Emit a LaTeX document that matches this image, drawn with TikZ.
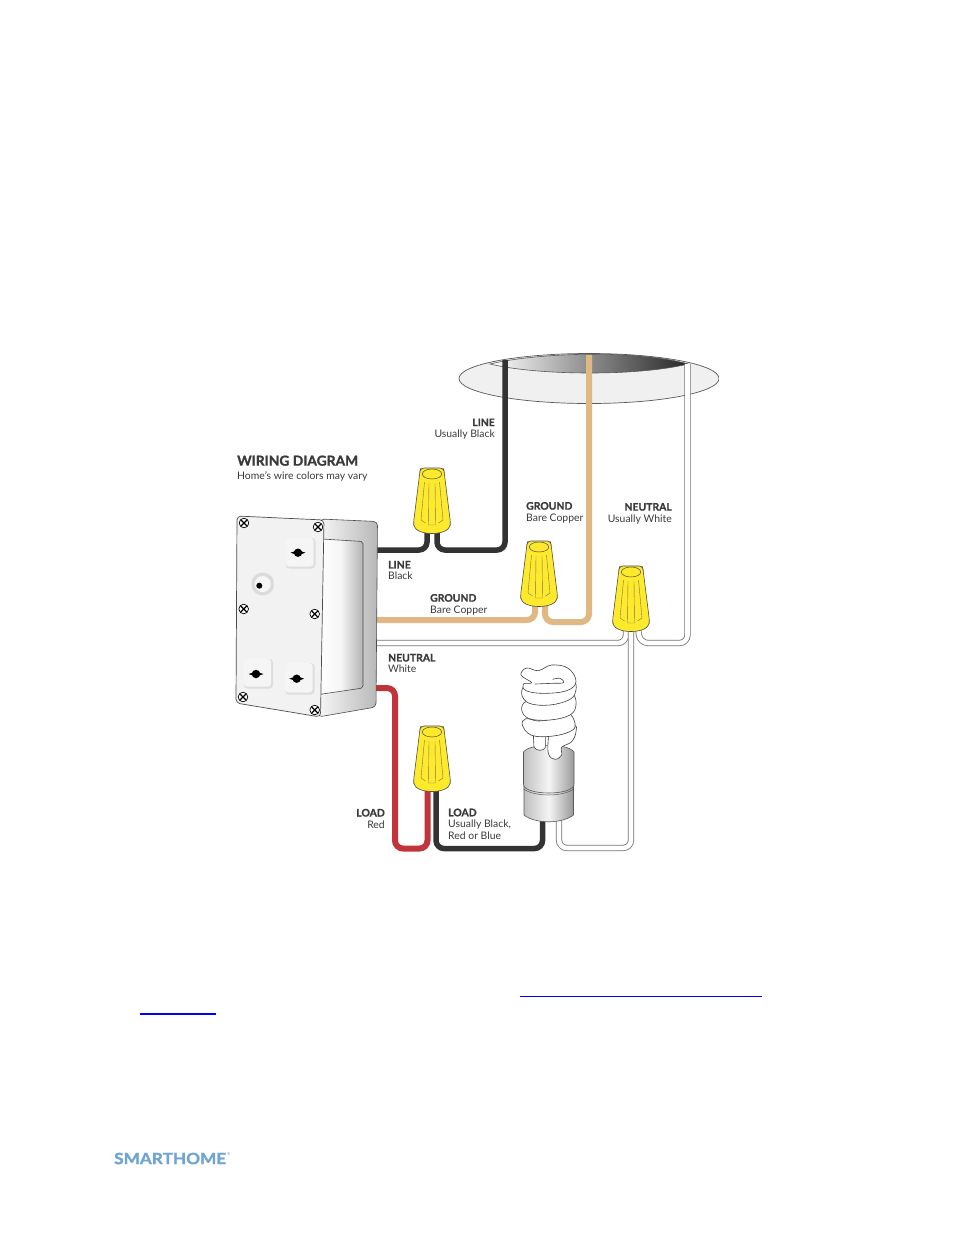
\documentclass[tikz,border=0pt]{standalone}
\usepackage{fontspec}
\setmainfont[BoldFeatures={FakeBold=1.2}]{Lato}
\usetikzlibrary{positioning}
\definecolor{wireblack}{HTML}{333333}
\definecolor{wiretan}{HTML}{E0B883}
\definecolor{wirered}{HTML}{C1343B}
\definecolor{nutyellow}{HTML}{FFE92B}
\definecolor{labelgray}{HTML}{3A3A3A}
\definecolor{logoblue}{HTML}{6FA5D3}
\tikzset{
  blackwire/.style={draw=wireblack, line width=5.5pt, rounded corners=8pt},
  tanwire/.style={draw=wiretan, line width=6pt, rounded corners=8pt},
  redwire/.style={draw=wirered, line width=6pt, rounded corners=8pt},
  whitewire/.style={draw=black!55, line width=0.8pt, double=white, double distance=4.6pt, rounded corners=8pt},
  wirelabel/.style={font=\fontsize{10.4}{11.5}\selectfont, text=labelgray, inner sep=0pt},
  keybox/.style={fill=black!13, rounded corners=3.5pt},
  keytop/.style={fill=black!4, rounded corners=3pt},
  nutrib/.style={black!55, line width=0.4pt},
  wirenut/.pic={
    \draw[black!70, line width=0.6pt, fill=nutyellow, rounded corners=3pt]
      (-12,-3) -- (-11,-6) -- (11,-6) -- (12,-3) -- (18.5,49) -- (18,53)
      .. controls (10,61) and (-10,61) .. (-18,53) -- (-18.5,49) -- cycle;
    \draw[black!70, line width=0.5pt] (0,0) ellipse (9.7 and 5);
    \draw[nutrib] (-7.5,8) -- (-11,46) -- (-6.5,49);
    \draw[nutrib] (7.5,8) -- (11,46) -- (6.5,49);
    \draw[nutrib] (-3,9) -- (-3.5,51) -- (3.5,51) -- (3,9);
  },
  boxscrew/.pic={
    \draw[black, line width=0.7pt, fill=white] (0,0) circle (4.8);
    \draw[black, line width=1.3pt] (-3,-3) -- (3,3) (-3,3) -- (3,-3);
  },
  keyhole/.pic={
    \fill[black] (0,0) circle (4.2);
    \fill[black] (-7.5,0) -- (0,-2.5) -- (7.5,0) -- (0,2.5) -- cycle;
  },
}
\begin{document}
\begin{tikzpicture}[x=1pt, y=-1pt]
\useasboundingbox[fill=white] (0,0) rectangle (954,1235);

% ceiling opening
\draw[black!65, line width=0.7pt, fill=black!6] (589,378.5) ellipse (130 and 25);
\shade[left color=white, right color=black!85, middle color=black!45, draw=black!65, line width=0.6pt]
  (490,364) .. controls (540,352) and (640,350) .. (688,364)
  .. controls (640,376) and (540,376) .. cycle;
\fill[white] (718.5,340) rectangle (730,410);

% named wire ends
\coordinate (nutline) at (432,474);
\coordinate (nutground) at (539,547);
\coordinate (nutneutral) at (631,572);
\coordinate (nutload) at (432,732);
\coordinate (boxline) at (376,550);
\coordinate (boxground) at (376,620);
\coordinate (boxneutral) at (376,643);
\coordinate (boxload) at (376,688);
\coordinate (ceilline) at (505,360);
\coordinate (ceilground) at (589,355);
\coordinate (ceilneutral) at (687.5,364);
\coordinate (bulbhot) at (542.5,818);
\coordinate (bulbneutral) at (559,818);

% wires
\draw[blackwire] (boxline) -- (427,550) -- (427,528);
\draw[blackwire] (437,528) -- (437,550) -- (505,550) -- (ceilline);
\draw[tanwire] (boxground) -- (535,620) -- (535,602);
\draw[tanwire] (545,602) -- (545,622) -- (589,622) -- (ceilground);
\draw[whitewire] (boxneutral) -- (626,643) -- (626,628);
\draw[whitewire] (638,628) -- (640,643) -- (687.5,643) -- (ceilneutral);
\draw[whitewire] (631,625) -- (631,848) -- (559,848) -- (bulbneutral);
\draw[redwire] (boxload) -- (395,688) -- (395,848.5) -- (427.5,848.5) -- (427.5,788);
\draw[blackwire] (436,788) -- (436,848.5) -- (542.5,848.5) -- (bulbhot);

% switch body
\shade[left color=black!3, right color=black!28, draw=black!70, line width=0.6pt, rounded corners=4pt]
  (320,519) -- (377.5,521.5) -- (376,707) -- (318,717) -- cycle;
\shade[left color=white, right color=black!30, middle color=black!4, draw=black!70, line width=0.6pt, rounded corners=2pt]
  (322,539) -- (363,541.5) -- (363,688) -- (319,694.5) -- cycle;
\draw[black!70, line width=0.7pt, fill=black!5, rounded corners=4pt]
  (237,516) -- (324,520) -- (320.5,717) -- (236,703) -- cycle;
\fill[keybox] (286,538) rectangle (315.5,568.5);
\fill[keybox] (244,659) rectangle (273,688.5);
\fill[keybox] (285,663) rectangle (314.5,694.5);
\fill[keytop] (286,538) rectangle (313.5,566.5);
\fill[keytop] (244,659) rectangle (271,686.5);
\fill[keytop] (285,663) rectangle (312.5,692.5);
\path (298,552.7) pic {keyhole};
\path (256,674) pic {keyhole};
\path (296.7,678.7) pic {keyhole};
\fill[black!14] (262.7,584) circle (11.5);
\fill[black!3] (262.7,584) circle (8);
\fill[black] (259.3,585.7) circle (3);
\foreach \sx/\sy in {244/523, 318/527, 243.7/609, 314.7/614, 243/697, 314.7/710}
  \path (\sx,\sy) pic {boxscrew};

% wire nuts
\path (nutline) pic {wirenut};
\path (nutground) pic {wirenut};
\path (nutneutral) pic {wirenut};
\path (nutload) pic {wirenut};

% lamp
\shade[left color=black!25, right color=black!40, middle color=black!4, draw=black!65, line width=0.6pt]
  (524,783) -- (524,815) .. controls (535,824) and (562,824) .. (573.5,815) -- (573.5,783) -- cycle;
\shade[left color=black!25, right color=black!40, middle color=black!4, draw=black!65, line width=0.6pt]
  (523.5,752) .. controls (530,743) and (568,743) .. (574,752) -- (574,784)
  .. controls (574.5,796) and (523,796) .. (523.5,784) -- cycle;
\draw[black!65, line width=0.5pt] (523.5,789) .. controls (535,797) and (562,797) .. (574,789);
\begin{scope}[shift={(510,660)}, scale=1/3, line width=0.6pt, draw=black!75, fill=white]
\filldraw (70,222) -- (72,262) .. controls (80,274) and (100,274) .. (106,262) -- (106,222) -- cycle;
\filldraw plot[smooth cycle, tension=0.65] coordinates
  {(116,222) (115,280) (135,298) (155,285) (155,262) (185,245) (198,215) (190,195) (120,205)};
\filldraw plot[smooth cycle, tension=0.65] coordinates
  {(37,195) (48,176) (85,183) (130,176) (175,160) (195,190) (185,212) (130,228) (65,226)};
\filldraw plot[smooth cycle, tension=0.65] coordinates
  {(35,150) (48,125) (90,133) (150,120) (188,103) (198,135) (180,165) (120,180) (58,176)};
\filldraw plot[smooth cycle, tension=0.65] coordinates
  {(35,102) (48,75) (90,85) (150,75) (190,62) (198,90) (180,118) (120,135) (58,130)};
\filldraw plot[smooth cycle, tension=0.65] coordinates
  {(33,45) (50,24) (85,32) (125,15) (175,25) (198,65) (170,92) (100,100) (48,92) (40,72) (65,68)};
\draw plot[smooth, tension=0.7] coordinates {(75,72) (125,70) (160,68) (150,55) (128,58)};
\end{scope}

% text
\node[wirelabel, anchor=west, align=left, font=\fontsize{10.4}{14}\selectfont] (title) at (237,468.5)
  {{\fontsize{13.8}{14}\selectfont\bfseries WIRING DIAGRAM}\\Home's wire colors may vary};
\node[wirelabel, anchor=east, align=right] (linetop) at (495,429) {\textbf{LINE}\\Usually Black};
\node[wirelabel, anchor=west, align=left] (lineleft) at (388,570.5) {\textbf{LINE}\\Black};
\node[wirelabel, anchor=west, align=left] (groundtop) at (526,512.5) {\textbf{GROUND}\\Bare Copper};
\node[wirelabel, anchor=east, align=right] (neutraltop) at (672,513.5) {\textbf{NEUTRAL}\\Usually White};
\node[wirelabel, anchor=west, align=left] (groundleft) at (430,604.5) {\textbf{GROUND}\\Bare Copper};
\node[wirelabel, anchor=west, align=left] (neutralleft) at (388,663.5) {\textbf{NEUTRAL}\\White};
\node[wirelabel, anchor=east, align=right] (loadred) at (385,818.5) {\textbf{LOAD}\\Red};
\node[wirelabel, anchor=west, align=left] (loadblack) at (448,824) {\textbf{LOAD}\\Usually Black,\\Red or Blue};

% link rules and logo
\draw[blue, line width=1pt] (520,996) -- (762,996);
\draw[blue, line width=1.3pt] (140,1014) -- (216,1014);
\node[anchor=west, inner sep=0pt, text=logoblue, font=\fontsize{15.5}{15.5}\selectfont\bfseries] (logo) at (114,1158.5) {\scalebox{1.11}[1]{SMARTHOME}};
\node[anchor=west, inner sep=0pt, text=logoblue, font=\fontsize{4}{4}\selectfont, right=0.5pt of logo.north east, yshift=-1pt] (logomark) {®};
\end{tikzpicture}
\end{document}
